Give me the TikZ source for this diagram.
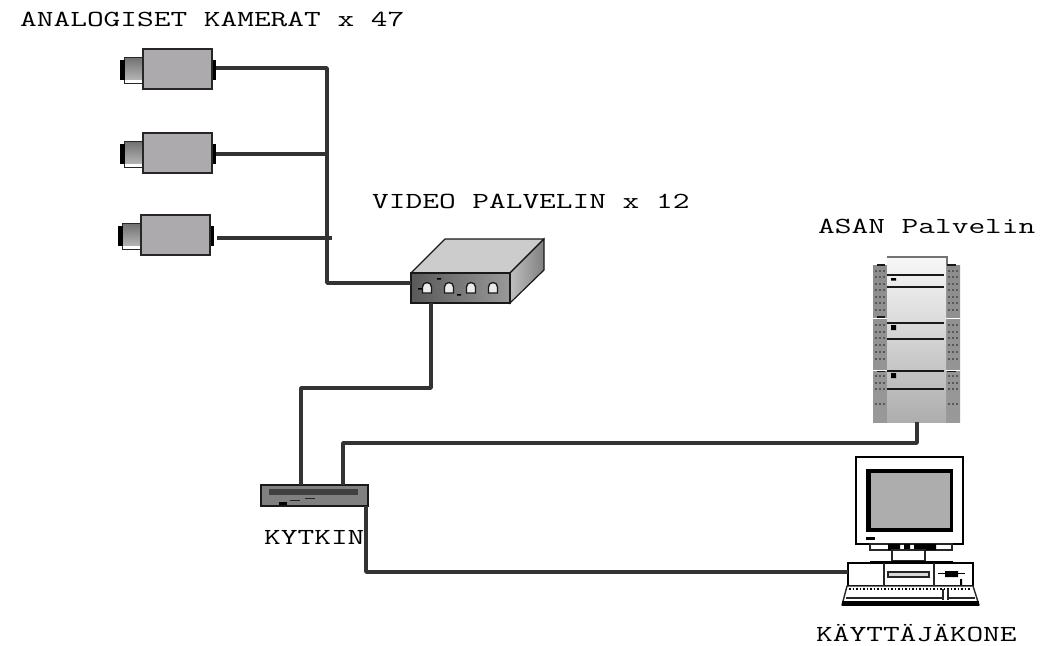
\documentclass[tikz,border=0pt]{standalone}
\usepackage{fontspec}
\usepackage{graphicx}
\tikzset{
  wire/.style={line width=3.6pt,draw=black!80,line join=round},
  lbl/.style={anchor=base west,inner sep=0pt,font=\ttfamily\fontsize{23}{23}\selectfont},
  box/.style={rectangle,inner sep=0pt,outer sep=0pt},
  edge/.style={draw=black!85,line width=1.4pt,line join=miter},
  thin edge/.style={draw=black!85,line width=1pt},
  rib/.style={draw=black!90,line width=1.5pt},
}
\definecolor{camgray}{RGB}{172,170,172}
\newcommand{\wlabel}[4]{\node[lbl] (#1) at (#2) {\scalebox{#3}[1]{#4}};}
\newcommand{\camera}[3]{%
  \draw[thin edge,fill=white] (#2-19,#3-12) rectangle (#2,#3+14);
  \fill[black!50] (#2-18,#3-11) rectangle (#2-1,#3+10);
  \shade[top color=black!55,bottom color=black!30] (#2-18,#3-11) rectangle (#2-1,#3+10);
  \fill[black] (#2-23,#3-9) rectangle (#2-18,#3+11);
  \fill[black] (#2+69,#3-9) rectangle (#2+73,#3+11);
  \node[box,draw=black!85,line width=1.2pt,fill=camgray,minimum width=69pt,minimum height=40pt,anchor=north west] (#1) at (#2,#3-20) {};
}
\newcommand{\srvdots}[2]{%
  \foreach \yy in {#2}{\foreach \dd in {0,4,8}{\fill[black!65] (#1+\dd,\yy) rectangle +(2,2);}}
}
\newcommand{\port}[2]{%
  \draw[line width=1.3pt,draw=black!90,fill=black!8] (#1-4.5,#2+5) -- (#1-4.5,#2-1) arc (180:360:4.5 and 4.5) -- (#1+4.5,#2+5) -- cycle;
}
\begin{document}
\begin{tikzpicture}[x=1pt,y=-1pt]
\useasboundingbox (0,0) rectangle (1054,645);
\fill[white] (0,0) rectangle (1054,645);

% labels
\wlabel{t1}{20,27}{1.41}{ANALOGISET KAMERAT x 47}
\wlabel{t2}{372,208}{1.41}{VIDEO PALVELIN x 12}
\wlabel{t3}{818,233}{1.41}{ASAN Palvelin}
\wlabel{t4}{264,544}{1.41}{KYTKIN}
\wlabel{t5}{816,641}{1.41}{KÄYTTÄJÄKONE}

% cameras
\camera{c1}{143}{69}
\camera{c2}{143}{153}
\camera{c3}{141}{235}

% video server
\fill[black!20,draw=black!90,line width=1.2pt,line join=round] (411,273) -- (445,239) -- (544,239) -- (510,273) -- cycle;
\shade[left color=black!25,right color=black!50,draw=black!90,line width=1.2pt] (510,273) -- (544,239) -- (544,270) -- (510,303) -- cycle;
\node[box,draw=black!90,line width=1.4pt,left color=black!65,right color=black!40,minimum width=99pt,minimum height=30pt,anchor=north west] (vs) at (411,273) {};
\port{427}{288}\port{449}{288}\port{471}{288}\port{493}{288}
\fill[black] (418,288) rectangle +(4,1.5) (437,278) rectangle +(4,1.5) (457,294) rectangle +(4,1.5);

% switch
\node[box,draw=black!90,line width=1.2pt,fill=black!50,minimum width=107pt,minimum height=21pt,anchor=north west] (sw) at (261,485) {};
\fill[black!75] (269,489) rectangle (358,495);
\fill[black] (279,502) rectangle (287,505);
\draw[black!85,line width=.8pt] (290,500) -- (300,500) (305,498) -- (315,498);

% ASAN server
\shade[top color=black!45,bottom color=black!40] (873,265) rectangle (960,422);
\shade[top color=black!3,bottom color=black!32] (887,257) rectangle (946,422);
\node[box,minimum width=87pt,minimum height=165pt,anchor=north west] (srv) at (873,257) {};
\foreach \yy in {275,287,323,339,371,389}{\draw[rib] (887,\yy) -- (944,\yy);}
\draw[black!55,line width=1.5pt] (887,257) -- (947,257) -- (947,265);
\draw[rib] (877,265) -- (885,265) (877,317) -- (885,317) (877,371) -- (885,371);
\draw[rib] (947,265) -- (956,265) (947,371) -- (956,371);
\draw[white,line width=1pt] (873,318) -- (887,318) (946,318) -- (960,318) (873,370) -- (887,370) (946,370) -- (960,370);
\fill[black] (891,278) rectangle (896,280.5) (891,325) rectangle (896,330) (891,373) rectangle (896,378);
\srvdots{875}{270,276,283,289,296,302,309,324,331,337,344,351,358,375,382,388,403}
\srvdots{948}{270,276,283,289,296,302,309,324,331,337,344,351,358,375,382,388,403}

% computer
\node[box,draw=black,line width=1.4pt,fill=white,minimum width=107pt,minimum height=87pt,anchor=north west] (mon) at (856,457) {};
\fill[black] (866,469) rectangle (953,532);
\fill[black!32] (871,473) rectangle (950,528);
\fill[black] (866,537) rectangle (875,540);
\draw[edge,fill=white] (870,544) rectangle (952,550);
\fill[black] (888,544) rectangle (900,550) (904,544) rectangle (910,550) (914,544) rectangle (936,550);
\draw[edge,fill=white] (892,550) -- (925,550) -- (925,561) -- (892,561) -- cycle;
\fill[black] (870,561) rectangle (953,564);
\node[box,draw=black,line width=1.4pt,fill=white,minimum width=125pt,minimum height=23pt,anchor=north west] (pc) at (848,563) {};
\draw[edge] (884,563) -- (884,586) (934,563) -- (934,586);
\draw[edge,fill=black!15] (888,572) rectangle (929,577);
\draw[black,line width=1.5pt] (938,573.5) -- (965,573.5);
\fill[black] (945,571) rectangle (958,577) (960,579) rectangle (962,586);
\draw[edge,fill=white,line join=round] (847,586) -- (973,586) -- (979,605) -- (842,605) -- cycle;
\fill[black] (842,601) rectangle (979,606);
\draw[black,line width=1.5pt,dash pattern=on 1.5pt off 2pt] (849,589) -- (971,589);
\draw[edge] (846,598) -- (943,598) (948,598) -- (975,598) (943,589) -- (943,600) (948,589) -- (948,600);

% connectors
\coordinate (j1) at (327,68);
\coordinate (j2) at (327,154);
\coordinate (j3) at (327,238);
\coordinate (j4) at (327,283);
\coordinate (a1) at (431,388);
\coordinate (a2) at (301,388);
\coordinate (b1) at (343,443);
\coordinate (b2) at (917,443);
\coordinate (d1) at (366,572);
\draw[wire] ([xshift=4pt]c1.east |- j1) -- (j1) -- (j4) -- (vs.west |- j4);
\draw[wire] ([xshift=4pt]c2.east |- j2) -- (j2);
\draw[wire] ([xshift=7pt]c3.east |- j3) -- (j3) -- ++(5,0);
\draw[wire] (vs.south -| a1) -- (a1) -- (a2) -- (a2 |- sw.north);
\draw[wire] (b1 |- sw.north) -- (b1) -- (b2) -- (b2 |- srv.south);
\draw[wire] (d1 |- sw.south) -- (d1) -- (pc.west |- d1);
\end{tikzpicture}
\end{document}
